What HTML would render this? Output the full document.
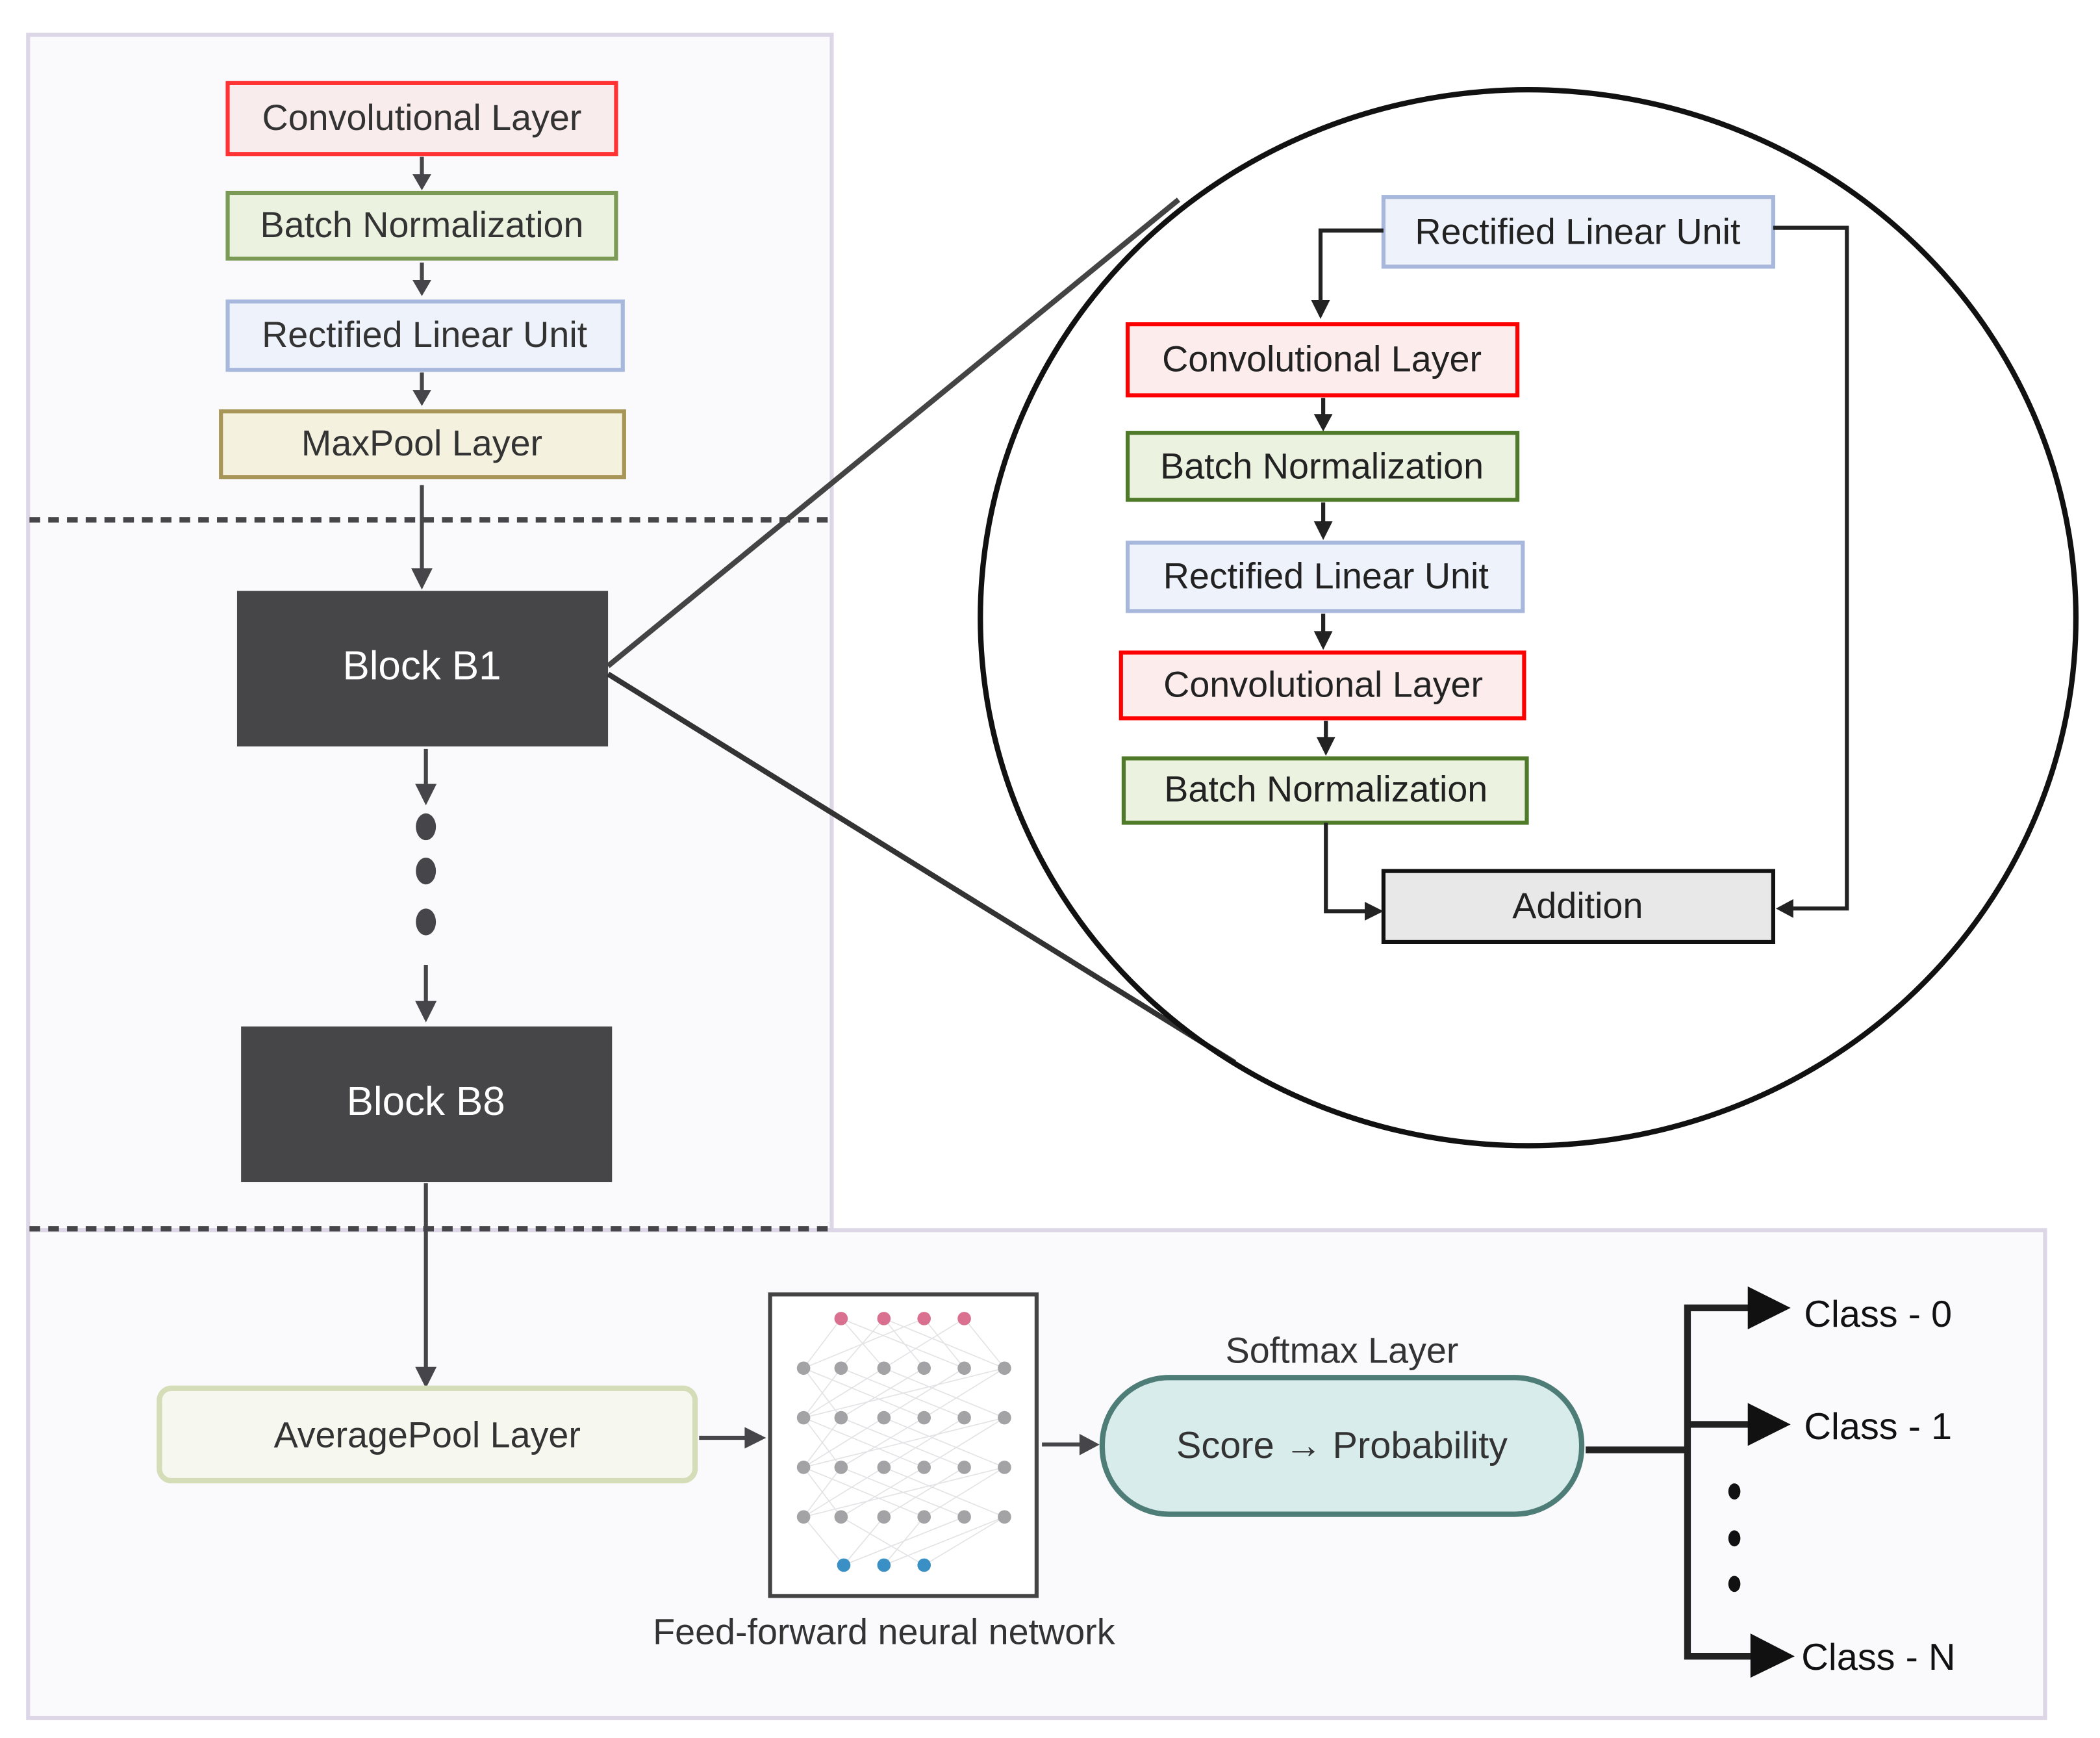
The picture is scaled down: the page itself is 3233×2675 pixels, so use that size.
<!DOCTYPE html>
<html><head><meta charset="utf-8"><style>html,body{margin:0;padding:0;background:#fff}svg{display:block}</style></head>
<body>
<svg width="3233" height="2675" viewBox="0 0 1568 1297" preserveAspectRatio="none" xmlns="http://www.w3.org/2000/svg" font-family="Liberation Sans, sans-serif">
<rect x="21" y="26" width="600" height="892" fill="#fafafd" stroke="#dcd6e6" stroke-width="3"/>
<rect x="21" y="918" width="1506" height="364" fill="#fafafd" stroke="#dcd6e6" stroke-width="3"/>
<line x1="22" y1="388" x2="620" y2="388" stroke="#46464a" stroke-width="4" stroke-dasharray="8,6"/>
<line x1="22" y1="917" x2="620" y2="917" stroke="#46464a" stroke-width="4" stroke-dasharray="8,6"/>

<g font-size="27" fill="#333" text-anchor="middle">
<rect x="170" y="62" width="290" height="53" fill="#f9eced" stroke="#f33" stroke-width="3"/>
<text x="315" y="97">Convolutional Layer</text>
<rect x="170" y="144" width="290" height="49" fill="#ebf3e0" stroke="#7a9a55" stroke-width="3"/>
<text x="315" y="177">Batch Normalization</text>
<rect x="170" y="225" width="295" height="51" fill="#eef2fa" stroke="#a8b8dc" stroke-width="3"/>
<text x="317" y="259">Rectified Linear Unit</text>
<rect x="165" y="307" width="301" height="49" fill="#f4f2df" stroke="#a89558" stroke-width="3"/>
<text x="315" y="340">MaxPool Layer</text>
</g>
<g stroke="#46464a" stroke-width="3" fill="#46464a">
<line x1="315" y1="117" x2="315" y2="132"/><path d="M308,130 L322,130 L315,142Z" stroke="none"/>
<line x1="315" y1="196" x2="315" y2="211"/><path d="M308,209 L322,209 L315,221Z" stroke="none"/>
<line x1="315" y1="278" x2="315" y2="293"/><path d="M308,291 L322,291 L315,303Z" stroke="none"/>
<line x1="315" y1="362" x2="315" y2="428"/><path d="M307,424 L323,424 L315,440Z" stroke="none"/>
<line x1="318" y1="559" x2="318" y2="588"/><path d="M310,585 L326,585 L318,601Z" stroke="none"/>
<line x1="318" y1="720" x2="318" y2="750"/><path d="M310,747 L326,747 L318,763Z" stroke="none"/>
<line x1="318" y1="883" x2="318" y2="1024"/><path d="M310,1020 L326,1020 L318,1036Z" stroke="none"/>
<line x1="522" y1="1073" x2="560" y2="1073"/><path d="M556,1065 L556,1081 L572,1073Z" stroke="none"/>
<line x1="778" y1="1078" x2="810" y2="1078"/><path d="M806,1070 L806,1086 L821,1078Z" stroke="none"/>
</g>
<g fill="#46464a"><ellipse cx="318" cy="617" rx="7.5" ry="10"/><ellipse cx="318" cy="650" rx="7.5" ry="10"/><ellipse cx="318" cy="688" rx="7.5" ry="10"/></g>

<rect x="177" y="441" width="277" height="116" fill="#464648"/>
<text x="315" y="507" font-size="30" fill="#fff" text-anchor="middle">Block B1</text>
<rect x="180" y="766" width="277" height="116" fill="#464648"/>
<text x="318" y="832" font-size="30" fill="#fff" text-anchor="middle">Block B8</text>

<line x1="454" y1="497" x2="880" y2="149" stroke="#444" stroke-width="4"/>
<line x1="454" y1="503" x2="922" y2="793" stroke="#333" stroke-width="4"/>
<ellipse cx="1141" cy="461" rx="409" ry="394" fill="none" stroke="#111" stroke-width="4"/>

<g font-size="27" fill="#222" text-anchor="middle">
<rect x="1033" y="147" width="291" height="52" fill="#eef2fa" stroke="#a8b8dc" stroke-width="3"/>
<text x="1178" y="182">Rectified Linear Unit</text>
<rect x="842" y="242" width="291" height="53" fill="#fcecec" stroke="#f00" stroke-width="3"/>
<text x="987" y="277">Convolutional Layer</text>
<rect x="842" y="323" width="291" height="50" fill="#ebf3e0" stroke="#4f7a2a" stroke-width="3"/>
<text x="987" y="357">Batch Normalization</text>
<rect x="842" y="405" width="295" height="51" fill="#eef2fa" stroke="#a8b8dc" stroke-width="3"/>
<text x="990" y="439">Rectified Linear Unit</text>
<rect x="837" y="487" width="301" height="49" fill="#fcecec" stroke="#f00" stroke-width="3"/>
<text x="988" y="520">Convolutional Layer</text>
<rect x="839" y="566" width="301" height="48" fill="#ebf3e0" stroke="#4f7a2a" stroke-width="3"/>
<text x="990" y="598">Batch Normalization</text>
<rect x="1033" y="650" width="291" height="53" fill="#e8e8e8" stroke="#111" stroke-width="3"/>
<text x="1178" y="685">Addition</text>
</g>
<g stroke="#222" stroke-width="3" fill="none">
<polyline points="1033,172 986,172 986,226"/>
<polyline points="1324,170 1379,170 1379,678 1338,678"/>
<polyline points="990,614 990,680 1020,680"/>
<line x1="988" y1="297" x2="988" y2="311"/>
<line x1="988" y1="375" x2="988" y2="391"/>
<line x1="988" y1="458" x2="988" y2="473"/>
<line x1="990" y1="538" x2="990" y2="552"/>
</g>
<g fill="#222">
<path d="M979,224 L993,224 L986,238Z"/>
<path d="M1339,671 L1339,685 L1326,678Z"/>
<path d="M1019,673 L1019,687 L1033,680Z"/>
<path d="M981,309 L995,309 L988,322Z"/>
<path d="M981,389 L995,389 L988,403Z"/>
<path d="M981,471 L995,471 L988,485Z"/>
<path d="M983,550 L997,550 L990,564Z"/>
</g>

<rect x="119" y="1036" width="400" height="69" rx="9" fill="#f6f7ee" stroke="#d5dcb8" stroke-width="4"/>
<text x="319" y="1080" font-size="27" fill="#333" text-anchor="middle">AveragePool Layer</text>

<rect x="575" y="966" width="199" height="225" fill="#fff" stroke="#444" stroke-width="3"/>
<g stroke="#e3e3e6" stroke-width="0.8">
<path d="M628,984 L600,1021 M628,984 L660,1021 M628,984 L720,1021 M660,984 L628,1021 M660,984 L690,1021 M660,984 L750,1021 M690,984 L600,1021 M690,984 L720,1021 M720,984 L660,1021 M720,984 L750,1021"/>
<path d="M600,1021 L628,1058 M600,1021 L690,1058 M628,1021 L600,1058 M628,1021 L720,1058 M660,1021 L750,1058 M660,1021 L600,1058 M690,1021 L628,1058 M720,1021 L660,1058 M750,1021 L690,1058 M750,1021 L600,1058"/>
<path d="M600,1058 L628,1095 M600,1058 L690,1095 M628,1058 L600,1095 M628,1058 L720,1095 M660,1058 L750,1095 M660,1058 L600,1095 M690,1058 L628,1095 M720,1058 L660,1095 M750,1058 L690,1095 M750,1058 L600,1095"/>
<path d="M600,1095 L628,1132 M600,1095 L690,1132 M628,1095 L600,1132 M628,1095 L720,1132 M660,1095 L750,1132 M660,1095 L600,1132 M690,1095 L628,1132 M720,1095 L660,1132 M750,1095 L690,1132 M750,1095 L600,1132"/>
<path d="M600,1132 L630,1168 M628,1132 L690,1168 M660,1132 L630,1168 M690,1132 L660,1168 M720,1132 L630,1168 M750,1132 L690,1168 M750,1132 L660,1168"/>
</g>
<g fill="#d97090"><circle cx="628" cy="984" r="5"/><circle cx="660" cy="984" r="5"/><circle cx="690" cy="984" r="5"/><circle cx="720" cy="984" r="5"/></g>
<g fill="#a3a3a6">
<circle cx="600" cy="1021" r="5"/><circle cx="628" cy="1021" r="5"/><circle cx="660" cy="1021" r="5"/><circle cx="690" cy="1021" r="5"/><circle cx="720" cy="1021" r="5"/><circle cx="750" cy="1021" r="5"/>
<circle cx="600" cy="1058" r="5"/><circle cx="628" cy="1058" r="5"/><circle cx="660" cy="1058" r="5"/><circle cx="690" cy="1058" r="5"/><circle cx="720" cy="1058" r="5"/><circle cx="750" cy="1058" r="5"/>
<circle cx="600" cy="1095" r="5"/><circle cx="628" cy="1095" r="5"/><circle cx="660" cy="1095" r="5"/><circle cx="690" cy="1095" r="5"/><circle cx="720" cy="1095" r="5"/><circle cx="750" cy="1095" r="5"/>
<circle cx="600" cy="1132" r="5"/><circle cx="628" cy="1132" r="5"/><circle cx="660" cy="1132" r="5"/><circle cx="690" cy="1132" r="5"/><circle cx="720" cy="1132" r="5"/><circle cx="750" cy="1132" r="5"/>
</g>
<g fill="#3a8fc4"><circle cx="630" cy="1168" r="5"/><circle cx="660" cy="1168" r="5"/><circle cx="690" cy="1168" r="5"/></g>
<text x="660" y="1227" font-size="27" fill="#333" text-anchor="middle">Feed-forward neural network</text>

<rect x="823" y="1028" width="358" height="102" rx="50" fill="#d9ecec" stroke="#4e7d78" stroke-width="4"/>
<text x="1002" y="1088" font-size="28" fill="#333" text-anchor="middle">Score → Probability</text>
<text x="1002" y="1017" font-size="27" fill="#333" text-anchor="middle">Softmax Layer</text>

<g stroke="#222" stroke-width="5" fill="none">
<line x1="1184" y1="1082" x2="1262" y2="1082"/>
<polyline points="1310,976 1260,976 1260,1236 1312,1236"/>
<line x1="1260" y1="1063" x2="1310" y2="1063"/>
</g>
<g fill="#111">
<path d="M1305,960 L1305,992 L1337,976Z"/>
<path d="M1305,1047 L1305,1079 L1337,1063Z"/>
<path d="M1307,1219 L1307,1252 L1340,1236Z"/>
<ellipse cx="1295" cy="1113" rx="4.5" ry="6"/><ellipse cx="1295" cy="1148" rx="4.5" ry="6"/><ellipse cx="1295" cy="1182" rx="4.5" ry="6"/>
</g>
<g font-size="28" fill="#111">
<text x="1347" y="990">Class - 0</text>
<text x="1347" y="1074">Class - 1</text>
<text x="1345" y="1246">Class - N</text>
</g>
</svg>
</body></html>
